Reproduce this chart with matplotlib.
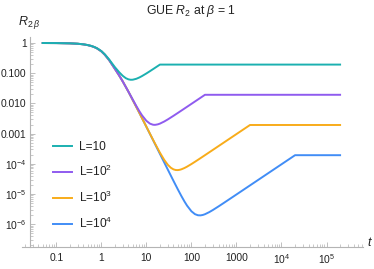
import matplotlib
matplotlib.use('Agg')
import matplotlib.pyplot as plt
from matplotlib.ticker import FixedLocator, NullFormatter

plt.rcParams['font.family'] = ['Liberation Sans', 'DejaVu Sans']
plt.rcParams['mathtext.fontset'] = 'custom'
plt.rcParams['mathtext.rm'] = 'Liberation Sans'
plt.rcParams['mathtext.it'] = 'Liberation Sans:italic'

# shared early decline
t_early = [0.05, 0.1, 0.2, 0.3, 0.4, 0.5, 0.6, 0.7, 0.8, 1.0, 1.2, 1.5, 2.0, 2.5, 3.0, 3.5, 4.0]
r_early = [0.9984, 0.9935, 0.9744, 0.9434, 0.9017, 0.8506, 0.7932, 0.7303, 0.6644,
           0.5315, 0.4064, 0.2675, 0.1394, 0.0832, 0.0528, 0.0349, 0.0244]

# L = 10
t_l1 = [0.05, 0.1, 0.2, 0.3, 0.4, 0.5, 0.6, 0.7, 0.8, 1.0, 1.2, 1.5, 2.0, 2.5, 3.0, 3.5,
        4.0, 4.5, 5.0, 6.0, 7.0, 8.0, 10.0, 12.0, 15.0, 20.0, 2e5]
r_l1 = [0.9989, 0.9945, 0.9763, 0.9462, 0.9055, 0.8553, 0.7989, 0.7370, 0.6720, 0.5410,
        0.4179, 0.2819, 0.1585, 0.1071, 0.0814, 0.0684, 0.0626, 0.0606, 0.0610, 0.0654,
        0.0723, 0.0804, 0.0981, 0.1167, 0.1452, 0.1929, 0.1929]

# L = 10^2
t_l2 = t_early + [5, 6, 7, 8, 10, 12, 14, 15, 16, 18, 20, 25, 30, 40, 50, 70, 100, 150, 200, 2e5]
r_l2 = r_early[:-1] + [0.02439, 0.01327, 0.00814, 0.00550, 0.00403, 0.002651, 0.002138,
                       0.001971, 0.001951, 0.001960, 0.002029, 0.002142, 0.002521, 0.002957,
                       0.003885, 0.004836, 0.006756, 0.009646, 0.014466, 0.019287, 0.019287]

# L = 10^3
t_l3 = t_early + [5, 6, 7, 8, 10, 12, 15, 20, 25, 30, 35, 40, 45, 50, 55, 60, 70, 80,
                  100, 120, 150, 200, 300, 500, 1000, 2000, 2e5]
r_l3 = r_early + [0.01279, 0.00756, 0.00483, 0.003268, 0.001696, 9.93e-4, 5.19e-4,
                  2.329e-4, 1.338e-4, 9.24e-5, 7.38e-5, 6.539e-5, 6.223e-5, 6.195e-5,
                  6.336e-5, 6.581e-5, 7.251e-5, 8.05e-5, 9.816e-5, 1.1672e-4, 1.4517e-4,
                  1.9309e-4, 2.8932e-4, 4.822e-4, 9.644e-4, 1.9287e-3, 1.9287e-3]

# L = 10^4
t_l4 = t_early + [5, 6, 7, 8, 10, 12, 15, 20, 25, 30, 40, 50, 60, 70, 80, 100, 120, 140,
                  160, 180, 200, 250, 300, 400, 500, 1000, 2000, 5000, 1e4, 2e4, 2e5]
r_l4 = r_early + [0.01279, 0.00756, 0.00483, 0.00326, 0.001686, 9.81e-4, 5.045e-4,
                  2.138e-4, 1.099e-4, 6.38e-5, 2.72e-5, 1.421e-5, 8.527e-6, 5.68e-6,
                  4.125e-6, 2.681e-6, 2.151e-6, 1.976e-6, 1.962e-6, 2.030e-6, 2.143e-6,
                  2.521e-6, 2.957e-6, 3.885e-6, 4.836e-6, 9.644e-6, 1.929e-5, 4.822e-5,
                  9.644e-5, 1.9287e-4, 1.9287e-4]

labels = ['L=10', 'L=10$^2$', 'L=10$^3$', 'L=10$^4$']
colors = ['#1BB0B0', '#8F5BEF', '#F8AC1A', '#418DF6']

x_ticks = [0.1, 1, 10, 100, 1000, 1e4, 1e5]
x_labels = ['0.1', '1', '10', '100', '1000', '$10^4$', '$10^5$']
y_ticks = [1, 0.1, 0.01, 0.001, 1e-4, 1e-5, 1e-6]
y_labels = ['1', '0.100', '0.010', '0.001', '$10^{-4}$', '$10^{-5}$', '$10^{-6}$']

W, H = 374, 269
fig = plt.figure(figsize=(W / 100, H / 100), dpi=100)
ax = fig.add_axes([22 / W, 1 - 247 / H, (363 - 22) / W, (247 - 37) / H])
ax.set_xscale('log')
ax.set_yscale('log')
ax.set_xlim(0.01733, 6.45e5)
ax.set_ylim(1.76e-7, 1.58)

series = [(t_l1, r_l1), (t_l2, r_l2), (t_l3, r_l3), (t_l4, r_l4)]
for i, ((tt, rr), c, lab) in enumerate(zip(series, colors, labels)):
    ax.plot(tt, rr, color=c, lw=1.4, label=lab, zorder=10 - i, solid_joinstyle='round')

axc = '#b4b4b4'
for s in ['top', 'right']:
    ax.spines[s].set_visible(False)
ax.spines['left'].set_position(('data', 0.0255))
ax.spines['left'].set_color(axc)
ax.spines['bottom'].set_color(axc)
ax.spines['left'].set_linewidth(0.8)
ax.spines['bottom'].set_linewidth(0.8)

minor_x = [m * 10.0 ** e for e in range(-2, 6) for m in range(2, 10)]
minor_y = [m * 10.0 ** e for e in range(-7, 1) for m in range(2, 10)]
ax.xaxis.set_major_locator(FixedLocator(x_ticks))
ax.xaxis.set_minor_locator(FixedLocator(minor_x))
ax.yaxis.set_major_locator(FixedLocator(y_ticks))
ax.yaxis.set_minor_locator(FixedLocator(minor_y))
ax.set_xticklabels(x_labels)
ax.set_yticklabels(y_labels)
ax.xaxis.set_minor_formatter(NullFormatter())
ax.yaxis.set_minor_formatter(NullFormatter())
ax.tick_params(which='major', direction='in', length=3.5, width=0.6, color=axc,
               labelsize=7.4, labelcolor='#222222', pad=4)
ax.tick_params(axis='y', which='major', pad=2.2)
ax.tick_params(which='minor', direction='in', length=2, width=0.5, color=axc)

fig.text(29 / W, 1 - 22 / H, r'$R_{2\,\beta}$', ha='center', va='center',
         fontsize=9, color='#222222')
fig.text(370 / W, 1 - 243 / H, r'$t$', ha='center', va='center',
         fontsize=9, color='#222222')
fig.text(191 / W, 1 - 11 / H, r'GUE $R_2$ at $\beta$ = 1', ha='center', va='center',
         fontsize=8.8, color='#222222')

leg = ax.legend(loc='upper left', bbox_to_anchor=(53 / W, 1 - 141 / H),
                bbox_transform=fig.transFigure, frameon=False, fontsize=8.6,
                handlelength=1.55, handletextpad=0.65, labelspacing=0.9,
                borderpad=0, borderaxespad=0)
for txt in leg.get_texts():
    txt.set_color('#222222')

fig.savefig('out.png', dpi=100)
